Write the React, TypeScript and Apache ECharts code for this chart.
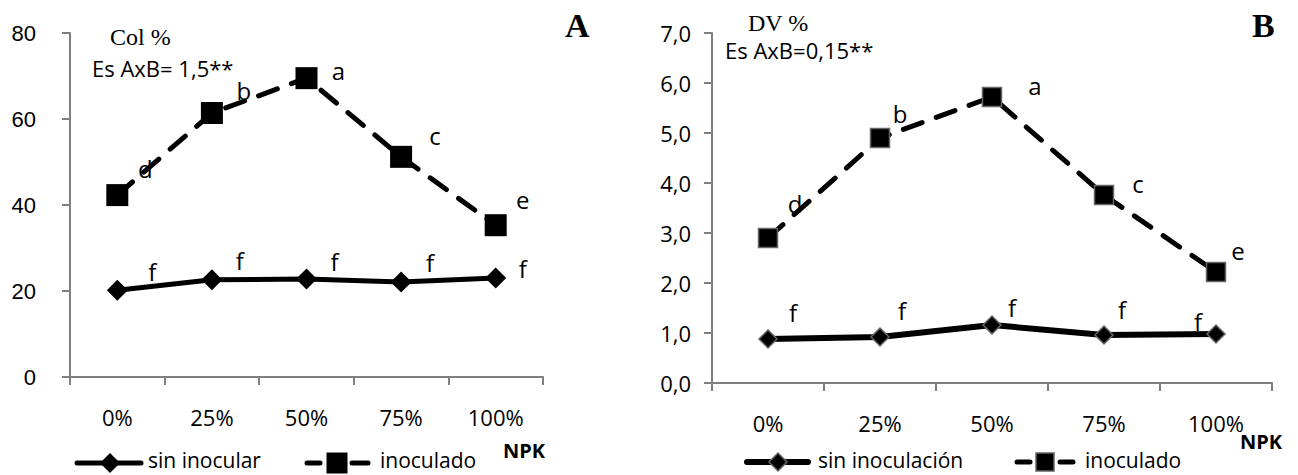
import React, { useEffect, useRef } from "react";
import * as echarts from "echarts";

const categories = ["0%", "25%", "50%", "75%", "100%"];

// Panel A: Col %
const colSin = [20.2, 22.6, 22.8, 22.1, 23.0];
const colIno = [42.3, 61.4, 69.5, 51.2, 35.3];
const colSinLetters = ["f", "f", "f", "f", "f"];
const colInoLetters = ["d", "b", "a", "c", "e"];
const colAxis = { min: 0, max: 80, interval: 20 };

// Panel B: DV %
const dvSin = [0.88, 0.92, 1.16, 0.96, 0.98];
const dvIno = [2.9, 4.9, 5.72, 3.76, 2.22];
const dvSinLetters = ["f", "f", "f", "f", "f"];
const dvInoLetters = ["d", "b", "a", "c", "e"];
const dvAxis = { min: 0, max: 7, interval: 1 };

const legendA = ["sin inocular", "inoculado"];
const legendB = ["sin inoculación", "inoculado"];

const SANS = "'Open Sans', 'Noto Sans', sans-serif";
const SERIF = "'Liberation Serif', 'DejaVu Serif', serif";
const AXIS_GRAY = "#7f7f7f";

// label offsets (style only)
const offColSin = [[35, -19], [28, -19], [28, -17], [29, -19], [27, -10]];
const offColIno = [[28, -27], [32, -22], [32, -8], [34, -21], [27, -26]];
const offDvSin = [[25, -27], [22, -27], [20, -18], [18, -26], [-18, -13]];
const offDvIno = [[27, -35], [20, -25], [43, -12], [34, -12], [22, -22]];

function withLabels(values: number[], letters: string[], offs: number[][]) {
  return values.map((v, i) => ({
    value: v,
    label: {
      show: true,
      formatter: letters[i],
      position: "inside",
      offset: offs[i],
      color: "#000",
      fontFamily: SANS,
      fontSize: 24,
    },
  }));
}

function diamond(cx: number, cy: number, r: number, border?: string) {
  return {
    type: "polygon",
    shape: { points: [[cx, cy - r], [cx + r, cy], [cx, cy + r], [cx - r, cy]] },
    style: { fill: "#000", stroke: border || "#000", lineWidth: border ? 1.5 : 0 },
  };
}
function square(cx: number, cy: number, s: number, border?: string) {
  return {
    type: "rect",
    shape: { x: cx - s / 2, y: cy - s / 2, width: s, height: s },
    style: { fill: "#000", stroke: border || "#000", lineWidth: border ? 1.5 : 0 },
  };
}
function seg(x1: number, x2: number, y: number, w: number) {
  return {
    type: "line",
    shape: { x1, y1: y, x2, y2: y },
    style: { stroke: "#000", lineWidth: w, lineCap: "round" },
  };
}
function legendText(x: number, y: number, text: string) {
  return {
    type: "text",
    x,
    y,
    style: { text, font: `21px ${SANS}`, fill: "#000", textVerticalAlign: "middle", verticalAlign: "middle" },
  };
}

export default function App() {
  const ref = useRef<HTMLDivElement>(null);
  useEffect(() => {
    if (!ref.current) return;
    const chart = echarts.init(ref.current, undefined, { renderer: "svg" });
    const xAxisBase = {
      type: "category",
      data: categories,
      boundaryGap: true,
      axisLine: { lineStyle: { color: AXIS_GRAY, width: 2 } },
      axisTick: { show: true, length: 8, lineStyle: { color: AXIS_GRAY, width: 2 } },
      axisLabel: { color: "#000", fontFamily: SANS, fontSize: 22 },
      splitLine: { show: false },
    };
    const yAxisBase = {
      type: "value",
      axisLine: { show: true, lineStyle: { color: AXIS_GRAY, width: 2 } },
      axisTick: { show: true, length: 8, lineStyle: { color: AXIS_GRAY, width: 2 } },
      splitLine: { show: false },
    };
    chart.setOption({
      animation: false,
      backgroundColor: "#fff",
      grid: [
        { left: 70, top: 33, width: 473, height: 344 },
        { left: 712, top: 33, width: 560, height: 350 },
      ],
      xAxis: [
        { ...xAxisBase, gridIndex: 0, axisLabel: { ...xAxisBase.axisLabel, margin: 29 } },
        { ...xAxisBase, gridIndex: 1, axisLabel: { ...xAxisBase.axisLabel, margin: 29 } },
      ],
      yAxis: [
        {
          ...yAxisBase,
          gridIndex: 0,
          ...colAxis,
          axisLabel: {
            color: "#000",
            fontFamily: "'Liberation Sans', Arial, sans-serif",
            fontSize: 22,
            margin: 34,
          },
        },
        {
          ...yAxisBase,
          gridIndex: 1,
          ...dvAxis,
          axisLabel: {
            color: "#000",
            fontFamily: SANS,
            fontSize: 22,
            margin: 21,
            formatter: (v: number) => v.toFixed(1).replace(".", ","),
          },
        },
      ],
      series: [
        {
          name: legendA[0],
          type: "line",
          xAxisIndex: 0,
          yAxisIndex: 0,
          data: withLabels(colSin, colSinLetters, offColSin),
          symbol: "diamond",
          symbolSize: 21,
          itemStyle: { color: "#000" },
          lineStyle: { color: "#000", width: 5 },
        },
        {
          name: legendA[1],
          type: "line",
          xAxisIndex: 0,
          yAxisIndex: 0,
          data: withLabels(colIno, colInoLetters, offColIno),
          symbol: "rect",
          symbolSize: 22,
          itemStyle: { color: "#000" },
          lineStyle: { color: "#000", width: 5, type: [20, 15], cap: "round" },
        },
        {
          name: legendB[0],
          type: "line",
          xAxisIndex: 1,
          yAxisIndex: 1,
          data: withLabels(dvSin, dvSinLetters, offDvSin),
          symbol: "diamond",
          symbolSize: 18,
          itemStyle: { color: "#000", borderColor: "#666", borderWidth: 1.5 },
          lineStyle: { color: "#000", width: 6 },
        },
        {
          name: legendB[1],
          type: "line",
          xAxisIndex: 1,
          yAxisIndex: 1,
          data: withLabels(dvIno, dvInoLetters, offDvIno),
          symbol: "rect",
          symbolSize: 19,
          itemStyle: { color: "#000", borderColor: "#666", borderWidth: 1.5 },
          lineStyle: { color: "#000", width: 5, type: [20, 15], cap: "round" },
        },
      ],
      graphic: [
        { type: "text", left: 110, top: 25, style: { text: "Col %", font: `24px ${SERIF}`, fill: "#000" } },
        { type: "text", left: 92, top: 57, style: { text: "Es AxB= 1,5**", font: `22px ${SANS}`, fill: "#000" } },
        { type: "text", left: 565, top: 8, style: { text: "A", font: `bold 34px ${SERIF}`, fill: "#000" } },
        { type: "text", left: 503, top: 440, style: { text: "NPK", font: `bold 20px ${SANS}`, fill: "#000" } },
        { type: "text", left: 748, top: 11, style: { text: "DV %", font: `24px ${SERIF}`, fill: "#000" } },
        { type: "text", left: 725, top: 39, style: { text: "Es AxB=0,15**", font: `22px ${SANS}`, fill: "#000" } },
        { type: "text", left: 1252, top: 8, style: { text: "B", font: `bold 34px ${SERIF}`, fill: "#000" } },
        { type: "text", left: 1240, top: 431, style: { text: "NPK", font: `bold 20px ${SANS}`, fill: "#000" } },
        // legend A
        seg(77, 141, 463, 5),
        diamond(110, 463, 10),
        legendText(148, 460, legendA[0]),
        seg(307, 320, 463, 5),
        seg(352, 368, 463, 5),
        square(337, 463, 21),
        legendText(380, 460, legendA[1]),
        // legend B
        seg(747, 808, 462, 6),
        diamond(778, 462, 9, "#666"),
        legendText(818, 460, legendB[0]),
        seg(1017, 1030, 462, 5),
        seg(1060, 1073, 462, 5),
        square(1045, 462, 18, "#666"),
        legendText(1085, 460, legendB[1]),
      ],
    });
    return () => chart.dispose();
  }, []);
  return (
    <div
      ref={ref}
      style={{ position: "fixed", left: 0, top: 0, width: 1298, height: 475, background: "#fff" }}
    />
  );
}
